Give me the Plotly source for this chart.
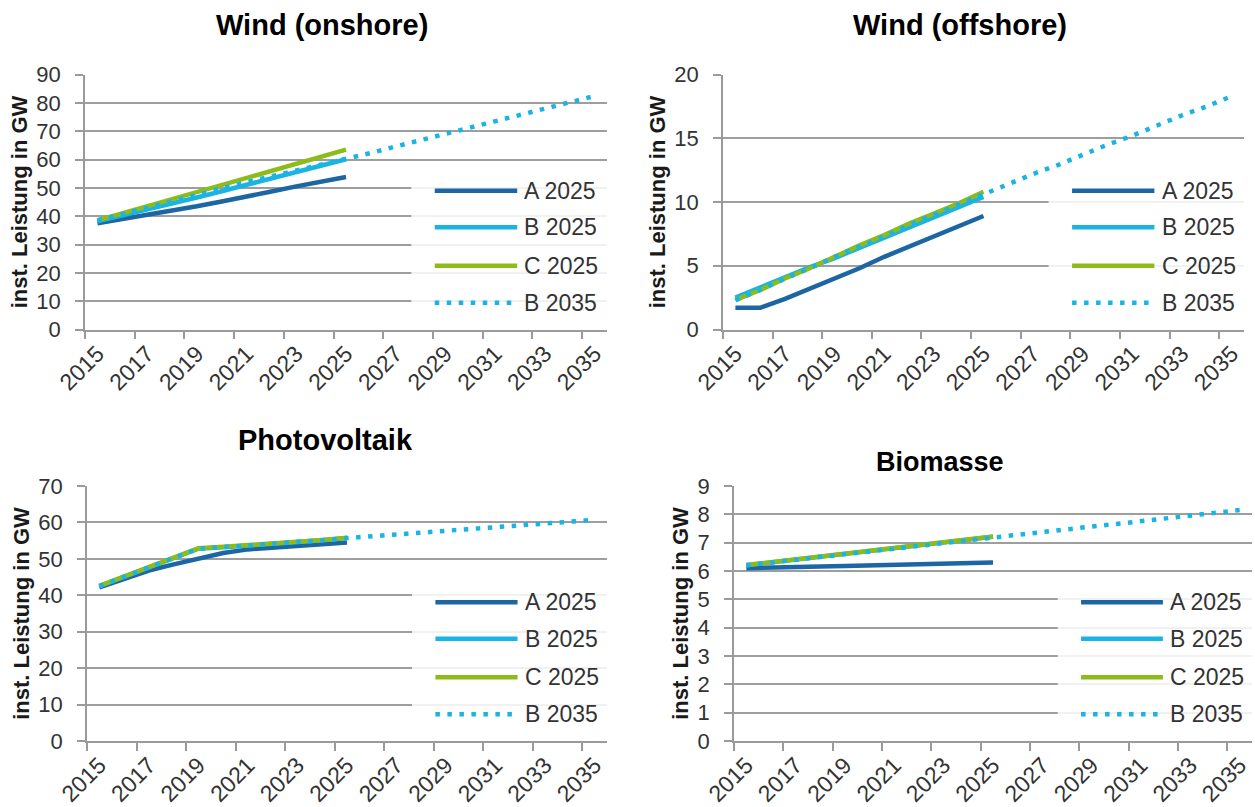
import plotly.graph_objects as go

# ---------------- data ----------------
years_2025 = list(range(2015, 2026))
years_2035 = list(range(2015, 2036))
tick_years = list(range(2015, 2036, 2))
tick_labels = [str(y) for y in tick_years]

series_names = ["A 2025", "B 2025", "C 2025", "B 2035"]

onshore_a = [37.5, 39.0, 40.3, 41.8, 43.5, 45.2, 46.8, 48.7, 50.5, 52.2, 53.8]
onshore_b = [38.2, 40.2, 42.3, 44.4, 46.6, 48.8, 51.0, 53.3, 55.5, 57.8, 60.1]
onshore_c = [38.5, 41.0, 43.5, 46.0, 48.5, 51.0, 53.5, 56.0, 58.5, 61.0, 63.5]
onshore_b35 = [38.5, 40.8, 43.1, 45.4, 47.7, 49.9, 52.0, 54.1, 56.1, 58.1, 60.1,
               62.3, 64.6, 66.8, 69.0, 71.3, 73.5, 75.7, 78.0, 80.2, 82.4]

offshore_a = [1.7, 1.7, 2.4, 3.2, 4.0, 4.8, 5.7, 6.5, 7.3, 8.1, 8.9]
offshore_b = [2.5, 3.3, 4.1, 4.9, 5.6, 6.4, 7.2, 8.0, 8.8, 9.6, 10.4]
offshore_c = [2.3, 3.1, 4.0, 4.8, 5.7, 6.6, 7.4, 8.3, 9.1, 9.9, 10.8]
offshore_b35 = [2.3, 3.1, 4.0, 4.8, 5.7, 6.5, 7.3, 8.2, 9.0, 9.8, 10.6,
                11.4, 12.2, 12.9, 13.7, 14.5, 15.2, 16.0, 16.8, 17.5, 18.3]

pv_a = [42.2, 44.5, 46.8, 48.5, 50.0, 51.6, 52.6, 53.0, 53.4, 54.0, 54.5]
pv_b = [42.5, 45.1, 47.7, 50.3, 52.8, 53.2, 53.6, 54.1, 54.6, 55.1, 55.7]
pv_c = [42.6, 45.2, 47.8, 50.4, 52.9, 53.3, 53.7, 54.2, 54.7, 55.2, 55.8]
pv_b35 = [42.5, 45.1, 47.7, 50.3, 52.8, 53.2, 53.6, 54.1, 54.6, 55.1, 55.7,
          56.2, 56.7, 57.2, 57.7, 58.2, 58.7, 59.2, 59.7, 60.2, 60.7]

bio_a = [6.10, 6.13, 6.15, 6.16, 6.18, 6.20, 6.21, 6.24, 6.27, 6.30, 6.30]
bio_b = [6.20, 6.30, 6.40, 6.50, 6.60, 6.70, 6.80, 6.90, 7.00, 7.10, 7.21]
bio_c = [6.21, 6.31, 6.41, 6.51, 6.61, 6.71, 6.81, 6.91, 7.01, 7.11, 7.22]
bio_b35 = [6.20, 6.30, 6.40, 6.50, 6.60, 6.70, 6.80, 6.90, 7.00, 7.10, 7.21,
           7.30, 7.39, 7.48, 7.57, 7.66, 7.76, 7.85, 7.95, 8.05, 8.15]

panel_titles = ["Wind (onshore)", "Wind (offshore)", "Photovoltaik", "Biomasse"]
panel_series = [
    [onshore_a, onshore_b, onshore_c, onshore_b35],
    [offshore_a, offshore_b, offshore_c, offshore_b35],
    [pv_a, pv_b, pv_c, pv_b35],
    [bio_a, bio_b, bio_c, bio_b35],
]
panel_ymax = [90, 20, 70, 9]
panel_dtick = [10, 5, 10, 1]
y_title = "inst. Leistung in GW"

# ---------------- styling ----------------
W, H = 1255, 807
FONT = "Liberation Sans, Arial, sans-serif"
TXT = "#333333"
GRID = "#9e9e9e"
AXIS = "#9a9a9a"
COLORS = ["#1c66a3", "#19b4e3", "#8cbb1a", "#19b4e3"]
DASHES = ["solid", "solid", "solid", "4.5px,7.5px"]
LW = 4.5

def px_dom(a, b, total):
    return [a / total, b / total]

x_domains = [px_dom(85, 607, W), px_dom(723, 1244, W), px_dom(87, 607, W), px_dom(734, 1252, W)]
y_domains = [[1 - 329.5 / H, 1 - 74.5 / H], [1 - 329.5 / H, 1 - 74.5 / H],
             [1 - 741 / H, 1 - 486 / H], [1 - 741 / H, 1 - 486 / H]]
title_pos = [(322, 25), (960, 25), (325, 440), (940, 462)]
title_sizes = [29, 29, 29, 27]

legend_rows = [0.544, 0.401, 0.25, 0.105]

fig = go.Figure()
layout = dict(
    width=W, height=H,
    margin=dict(l=0, r=0, t=0, b=0),
    paper_bgcolor="white", plot_bgcolor="white",
    font=dict(family=FONT, color=TXT),
    showlegend=False,
)
shapes = []
annotations = []

for i in range(4):
    n = i + 1
    sfx = "" if n == 1 else str(n)
    xid, yid = "x" + sfx, "y" + sfx
    series = panel_series[i]
    for k, name in enumerate(series_names):
        xs = years_2035 if name == "B 2035" else years_2025
        fig.add_trace(go.Scatter(
            x=xs, y=series[k], mode="lines", name=name,
            line=dict(color=COLORS[k], width=LW, dash=DASHES[k]),
            xaxis=xid, yaxis=yid, showlegend=False,
        ))

    layout["xaxis" + sfx] = dict(
        domain=x_domains[i], anchor=yid, range=[2014.5, 2035.5],
        tickmode="array", tickvals=tick_years, ticktext=tick_labels,
        tickangle=-45, ticks="", showgrid=False, zeroline=False,
        showline=True, linecolor=AXIS, linewidth=1.6,
        tickfont=dict(size=23, color=TXT, family=FONT),
        ticklabelstandoff=0,
        minor=dict(tickmode="array", tickvals=[t - 0.5 for t in tick_years],
                   ticks="outside", ticklen=8, tickcolor=AXIS, tickwidth=1.6,
                   showgrid=False),
        automargin=False, fixedrange=True,
    )
    layout["yaxis" + sfx] = dict(
        domain=y_domains[i], anchor=xid, range=[0, panel_ymax[i]],
        dtick=panel_dtick[i], tick0=0,
        ticks="outside", ticklen=8, tickcolor=AXIS, tickwidth=1.6,
        showgrid=True, gridcolor=GRID, gridwidth=1.6, zeroline=False,
        showline=True, linecolor=AXIS, linewidth=1.6,
        tickfont=dict(size=22, color=TXT, family=FONT),
        ticklabelstandoff=10,
        title=dict(text=y_title, standoff=3,
                   font=dict(size=22, color="#1a1a1a", family=FONT, weight="bold")),
        automargin=False, fixedrange=True,
    )

    xref_d, yref_d = xid + " domain", yid + " domain"
    # semi-transparent legend box (fades gridlines as in the reference)
    shapes.append(dict(type="rect", xref=xref_d, yref=yref_d,
                       x0=0.625, x1=1.0, y0=0.055, y1=0.6,
                       fillcolor="rgba(255,255,255,0.85)", line=dict(width=0),
                       layer="above"))
    for k, name in enumerate(series_names):
        yy = legend_rows[k]
        shapes.append(dict(type="line", xref=xref_d, yref=yref_d,
                           x0=0.67, x1=0.828, y0=yy, y1=yy,
                           line=dict(color=COLORS[k], width=LW, dash=DASHES[k]),
                           layer="above"))
        annotations.append(dict(text=name, xref=xref_d, yref=yref_d,
                                x=0.838, y=yy, xanchor="left", yanchor="middle",
                                showarrow=False,
                                font=dict(size=23, color=TXT, family=FONT)))

    tx, ty = title_pos[i]
    annotations.append(dict(text=panel_titles[i], xref="paper", yref="paper",
                            x=tx / W, y=1 - ty / H, xanchor="center", yanchor="middle",
                            showarrow=False,
                            font=dict(size=title_sizes[i], color="#000000", family=FONT,
                                      weight="bold")))

layout["shapes"] = shapes
layout["annotations"] = annotations
fig.update_layout(**layout)
fig.write_html("out.html",
               config={"displayModeBar": False},
               post_script="document.body.style.margin='0';document.body.style.padding='0';")
